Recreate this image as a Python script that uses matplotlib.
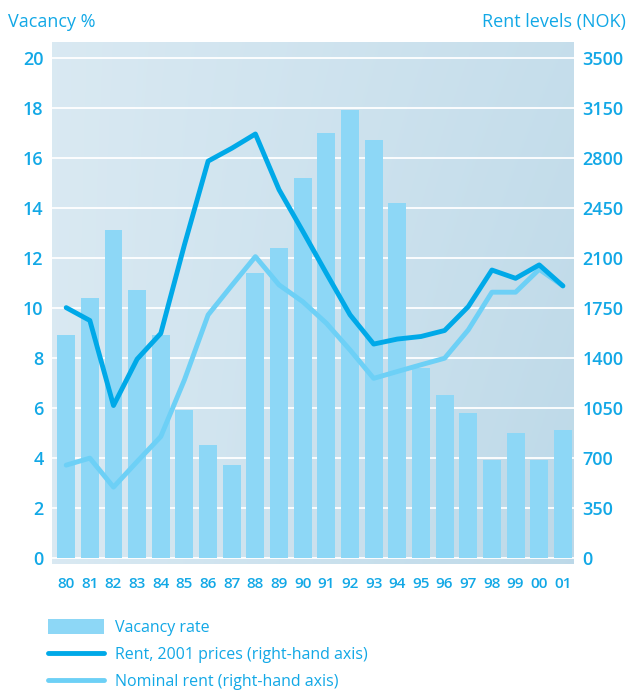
import numpy as np
import matplotlib
matplotlib.use("Agg")
import matplotlib.pyplot as plt
from matplotlib.patches import Patch
from matplotlib.lines import Line2D

years = ["80", "81", "82", "83", "84", "85", "86", "87", "88", "89", "90",
         "91", "92", "93", "94", "95", "96", "97", "98", "99", "00", "01"]
vacancy = [8.9, 10.4, 13.1, 10.7, 8.9, 5.9, 4.5, 3.7, 11.4, 12.4, 15.2,
           17.0, 17.9, 16.7, 14.2, 7.6, 6.5, 5.8, 3.9, 5.0, 3.9, 5.1]
rent_2001 = [1750, 1660, 1065, 1390, 1570, 2190, 2775, 2865, 2965, 2575, 2285,
             1990, 1700, 1495, 1530, 1548, 1590, 1757, 2013, 1955, 2049, 1902]
rent_nominal = [648, 697, 494, 673, 848, 1245, 1699, 1905, 2107, 1909, 1792,
                1641, 1454, 1255, 1303, 1350, 1396, 1594, 1858, 1858, 2018, 1902]

BLUE = "#12a8e6"
BAR = "#8dd7f6"
DARK = "#00a9e8"
LIGHT = "#6dd0f6"

plt.rcParams['font.family'] = ['Open Sans', 'DejaVu Sans']

fig = plt.figure(figsize=(6.29, 6.93), dpi=100)
ax = fig.add_axes([52 / 629, 1 - 564 / 693, 522 / 629, 522 / 693])

# soft photo-like background
gx = np.linspace(0, 1, 200)
gy = np.linspace(0, 1, 200)
GX, GY = np.meshgrid(gx, gy)
c1 = np.array([0.88, 0.93, 0.96])
c2 = np.array([0.74, 0.85, 0.91])
t = np.clip(0.2 + 0.55 * GX + 0.25 * (1 - GY) * GX, 0, 1)[..., None]
bg = c1 * (1 - t) + c2 * t
ax.imshow(bg, extent=[0, 1, 0, 1], transform=ax.transAxes, aspect="auto",
          zorder=0, origin="lower")

x = np.arange(len(years))
ax.bar(x, vacancy, width=0.76, color=BAR, zorder=2)
for yv in range(0, 21, 2):
    ax.axhline(yv, color="white", lw=1.3, zorder=1.5)

ax.set_xlim(-0.6, 21.47)
ax.set_ylim(-0.25, 20.62)
ax.set_yticks(range(0, 21, 2))
ax.set_xticks(x)
ax.set_xticklabels(years)
for s in ax.spines.values():
    s.set_visible(False)
ax.tick_params(axis="y", length=0, pad=6, labelsize=13, labelcolor=BLUE)
ax.tick_params(axis="x", length=0, pad=9, labelsize=11, labelcolor=BLUE)

ax2 = ax.twinx()
ax2.set_ylim(-0.25 * 175, 20.62 * 175)
ax2.set_yticks(range(0, 3501, 350))
for s in ax2.spines.values():
    s.set_visible(False)
ax2.tick_params(axis="y", length=0, pad=6, labelsize=13, labelcolor=BLUE)
for lab in ax.get_yticklabels() + ax.get_xticklabels() + ax2.get_yticklabels():
    lab.set_fontweight("semibold")
ax2.plot(x, rent_nominal, color=LIGHT, lw=3.5, solid_capstyle="round", zorder=3)
ax2.plot(x, rent_2001, color=DARK, lw=3.5, solid_capstyle="round", zorder=4)

fig.text(8 / 629, 1 - 22 / 693, "Vacancy %", color=BLUE, fontsize=13, va="center")
fig.text(626 / 629, 1 - 22 / 693, "Rent levels (NOK)", color=BLUE, fontsize=13,
         va="center", ha="right")

handles = [Patch(facecolor=BAR),
           Line2D([], [], color=DARK, lw=3.5, solid_capstyle="round"),
           Line2D([], [], color=LIGHT, lw=3.5, solid_capstyle="round")]
labels = ["Vacancy rate", "Rent, 2001 prices (right-hand axis)",
          "Nominal rent (right-hand axis)"]
fig.legend(handles, labels, loc="upper left", bbox_to_anchor=(42 / 629, 1 - 613 / 693),
           frameon=False, labelcolor=BLUE, handlelength=3.5, fontsize=11.5,
           handleheight=1.0, handletextpad=0.7, labelspacing=0.66, borderaxespad=0)

fig.savefig("out.png", dpi=100)
